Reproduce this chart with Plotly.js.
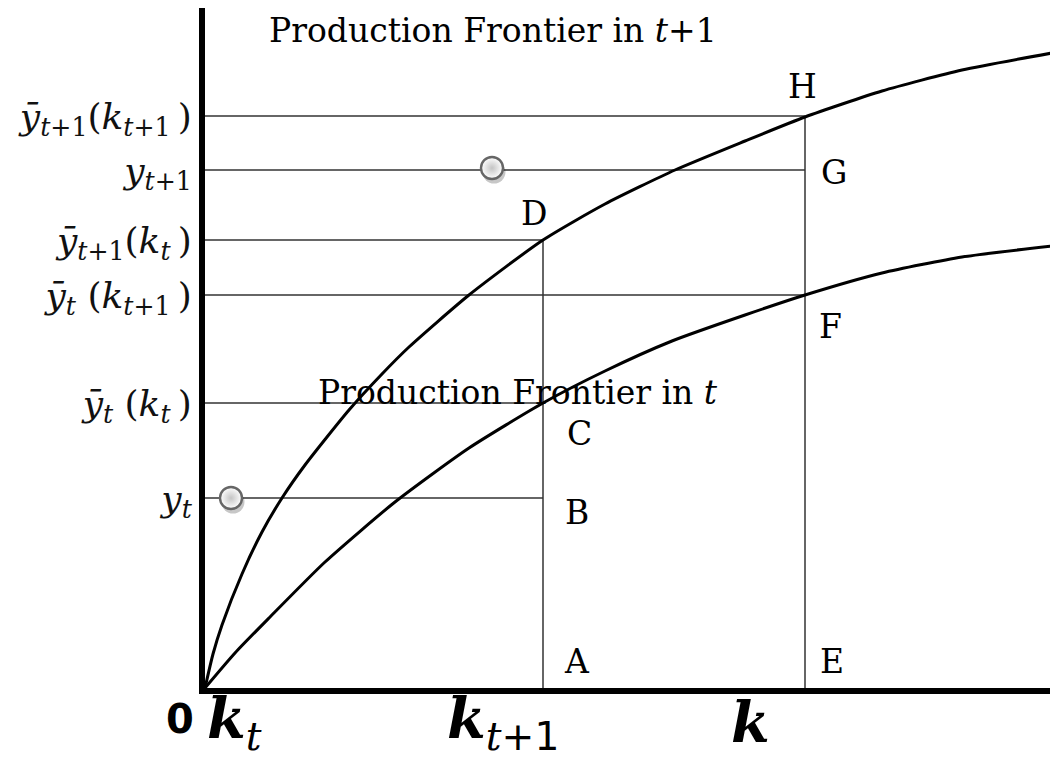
<!DOCTYPE html>
<html>
<head>
<meta charset="utf-8">
<script src="https://cdn.plot.ly/plotly-3.0.1.min.js"></script>
<style>
html, body { margin: 0; padding: 0; background: #fff; }
#chart { width: 1050px; height: 760px; }
</style>
</head>
<body>
<div id="chart"></div>
<script>
// production frontiers (capital on x, output on y)
let kUpper = [0, 8, 17, 37, 57, 77, 100, 144, 177, 204, 264, 338, 400, 470, 540, 600, 677, 757, 847];
let yUpper = [0, 34, 63, 114, 156, 190, 223, 278, 314, 341, 393, 448, 484, 518, 547, 571, 597, 618, 635];
let kLower = [0, 30, 64, 120, 190, 264, 338, 400, 467, 540, 600, 677, 757, 847];
let yLower = [0, 35, 70, 126, 186, 240, 285, 317, 347, 373, 393, 415, 431, 442];

// output levels marked on the vertical axis and where each guide stops
let levelY = [190, 285, 393, 448, 518, 572];
let levelEnd = [338, 338, 600, 338, 600, 600];
let levelLabels = [
    "<i>y</i><sub><i>t</i></sub>",
    "<i>ȳ</i><sub><i>t</i></sub> (<i>k</i><sub><i>t</i></sub>\u2009)",
    "<i>ȳ</i><sub><i>t</i></sub> (<i>k</i><sub><i>t</i>+1</sub>\u2009)",
    "<i>ȳ</i><sub><i>t</i>+1</sub>(<i>k</i><sub><i>t</i></sub>\u2009)",
    "<i>y</i><sub><i>t</i>+1</sub>",
    "<i>ȳ</i><sub><i>t</i>+1</sub>(<i>k</i><sub><i>t</i>+1</sub>\u2009)"
];

// capital levels k(t+1) and k with the top of their vertical guides
let capX = [338, 600];
let capTop = [448, 572];

// lettered points
let pointNames = ["A", "B", "C", "D", "E", "F", "G", "H"];
let pointX = [338, 338, 338, 338, 600, 600, 600, 600];
let pointY = [0, 190, 285, 448, 0, 393, 518, 572];

// the two grey dots
let dotX = [26, 287];
let dotY = [190, 520];

let guideX = [], guideY = [];
levelY.forEach(function (v, i) {
    guideX.push(0, levelEnd[i], null);
    guideY.push(v, v, null);
});
capX.forEach(function (v, i) {
    guideX.push(v, v, null);
    guideY.push(0, capTop[i], null);
});

let guides = {
    type: "scatter", mode: "lines",
    x: guideX, y: guideY,
    line: { color: "#333", width: 1.5 },
    hoverinfo: "skip"
};

let upper = {
    type: "scatter", mode: "lines",
    x: kUpper, y: yUpper,
    line: { color: "black", width: 3, shape: "spline", smoothing: 0.6 }
};

let lower = {
    type: "scatter", mode: "lines",
    x: kLower, y: yLower,
    line: { color: "black", width: 3, shape: "spline", smoothing: 0.6 }
};

let dotShadow = {
    type: "scatter", mode: "markers",
    x: dotX.map(function (v) { return v + 2; }),
    y: dotY.map(function (v) { return v - 4; }),
    marker: { size: 23, color: "rgba(0,0,0,0.22)" }
};

let dots = {
    type: "scatter", mode: "markers",
    x: dotX, y: dotY,
    marker: {
        size: 22, color: "#ffffff",
        gradient: { type: "radial", color: "#c4c4c4" },
        line: { color: "#666", width: 2.4 }
    }
};

// label offsets in pixels from each lettered point
let shiftX = [34, 34, 36, -9, 27, 25, 29, -3];
let shiftY = [27, -14, -30, 27, 27, -31, -2, 30];

let letterFont = { family: "DejaVu Serif", size: 33, color: "black" };
let annotations = pointNames.map(function (name, i) {
    return {
        x: pointX[i], y: pointY[i], xref: "x", yref: "y",
        text: name, showarrow: false,
        xshift: shiftX[i], yshift: shiftY[i],
        font: letterFont
    };
});

let kFont = { family: "DejaVu Serif", size: 56, color: "black" };
annotations.push(
    { x: 288, y: 658, xref: "x", yref: "y", showarrow: false,
      text: "Production Frontier in <i>t</i>+1", font: letterFont },
    { x: 313, y: 296, xref: "x", yref: "y", showarrow: false,
      text: "Production Frontier in <i>t</i>", font: letterFont },
    { x: -0.03, y: -0.045, xref: "paper", yref: "paper", showarrow: false,
      xanchor: "center", yanchor: "middle",
      text: "<b>0</b>", font: { family: "DejaVu Sans", size: 40, color: "black" } },
    { x: 29, y: -0.05, xref: "x", yref: "paper", showarrow: false, yanchor: "middle",
      text: "<b><i>k</i></b><sub><i>t</i></sub>", font: kFont },
    { x: 298, y: -0.05, xref: "x", yref: "paper", showarrow: false, yanchor: "middle",
      text: "<b><i>k</i></b><sub><i>t</i><span style=\"font-family:DejaVu Sans\">+1</span></sub>",
      font: kFont },
    { x: 545, y: -0.05, xref: "x", yref: "paper", showarrow: false, yanchor: "middle",
      text: "<b><i>k</i></b>", font: kFont }
);

let layout = {
    width: 1050, height: 760,
    margin: { l: 205, r: 0, t: 8, b: 72, pad: 0 },
    paper_bgcolor: "white", plot_bgcolor: "white",
    showlegend: false,
    xaxis: {
        range: [0, 845], showgrid: false, zeroline: false,
        showline: true, linewidth: 6, linecolor: "black",
        showticklabels: false, ticks: ""
    },
    yaxis: {
        range: [0, 680], showgrid: false, zeroline: false,
        showline: true, linewidth: 6, linecolor: "black",
        tickmode: "array", tickvals: levelY, ticktext: levelLabels, ticks: "",
        tickfont: { family: "DejaVu Serif", size: 36, color: "#111" }
    },
    annotations: annotations
};

Plotly.newPlot("chart", [guides, upper, lower, dotShadow, dots], layout, { staticPlot: true });
</script>
</body>
</html>
